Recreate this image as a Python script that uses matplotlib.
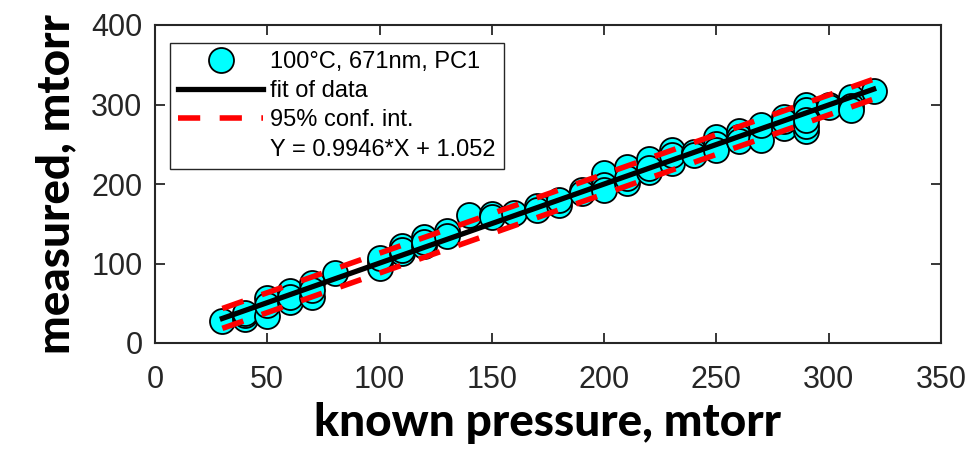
import matplotlib
matplotlib.use("Agg")
import matplotlib.pyplot as plt
import numpy as np
from matplotlib.lines import Line2D

# known pressure setpoints (mtorr) and the measured readings at each
known = [30, 40, 40, 40, 50, 50, 50, 60, 60, 60, 70, 70, 70, 80,
         100, 100, 100, 110, 110, 110, 120, 120, 120, 130, 130,
         140, 150, 150, 160, 170, 170, 180, 180, 190, 190,
         200, 200, 200, 210, 210, 210, 220, 220, 220, 230, 230, 230,
         240, 240, 250, 250, 250, 260, 260, 260, 270, 270, 270,
         280, 280, 280, 290, 290, 290, 290, 290, 300, 300,
         310, 310, 310, 320]
measured = [28, 30, 35, 38, 57, 34, 48, 65, 52, 58, 75, 58, 67, 88,
            102, 94, 107, 122, 113, 117, 133, 122, 127, 141, 135,
            161, 162, 158, 164, 172, 167, 173, 180, 193, 189,
            214, 199, 192, 222, 201, 208, 231, 215, 220, 243, 226, 236,
            240, 236, 259, 250, 243, 267, 259, 254, 264, 255, 274,
            284, 270, 279, 300, 267, 273, 293, 281, 300, 297,
            309, 298, 293, 317]

slope = 0.9946
intercept = 1.052
conf_half = 12.5
fit_range = [30, 320]

x_ticks = [0, 50, 100, 150, 200, 250, 300, 350]
y_ticks = [0, 100, 200, 300, 400]

plt.rcParams["font.family"] = ["Liberation Sans", "DejaVu Sans"]

fig = plt.figure(figsize=(9.73, 4.55), dpi=100)
ax = fig.add_axes([155 / 973, 1 - 343 / 455, 786 / 973, 318 / 455])

ax.plot(known, measured, linestyle="none", marker="o", markersize=18,
        markerfacecolor="#00FFFF", markeredgecolor="black", markeredgewidth=1.3,
        zorder=2)

xf = np.array(fit_range, dtype=float)
yf = slope * xf + intercept
ax.plot(xf, yf, color="black", linewidth=3.8, zorder=3)
dash = (0, (4, 3.5))
ax.plot(xf, yf + conf_half, color="red", linewidth=4, linestyle=dash, zorder=4)
ax.plot(xf, yf - conf_half, color="red", linewidth=4, linestyle=dash, zorder=4)

ax.set_xlim(0, 350)
ax.set_ylim(0, 400)
ax.set_xticks(x_ticks)
ax.set_yticks(y_ticks)
ax.tick_params(direction="in", length=7, width=1.3, colors="#262626",
               labelsize=22, top=True, right=True)
ax.tick_params(axis="x", pad=16)
ax.tick_params(axis="y", pad=9)
for sp in ax.spines.values():
    sp.set_linewidth(1.5)
    sp.set_color("#262626")

label_font = dict(family=["Lato", "DejaVu Sans"], fontweight="black", fontsize=33,
                  color="black")
ax.set_xlabel("known pressure, mtorr", labelpad=5, **label_font)
ax.set_ylabel("measured, mtorr", labelpad=10, **label_font)

handles = [
    Line2D([], [], linestyle="none", marker="o", markersize=18,
           markerfacecolor="#00FFFF", markeredgecolor="black", markeredgewidth=1.3),
    Line2D([], [], color="black", linewidth=3.8),
    Line2D([], [], color="red", linewidth=4, linestyle=dash),
    Line2D([], [], linestyle="none"),
]
labels = ["100°C, 671nm, PC1", "fit of data", "95% conf. int.",
          "Y = 0.9946*X + 1.052"]
leg = ax.legend(handles, labels, loc="upper left",
                bbox_to_anchor=(170 / 973, 1 - 43 / 455),
                bbox_transform=fig.transFigure, fontsize=17, frameon=True,
                fancybox=False, edgecolor="#262626", framealpha=1,
                handlelength=3.6, handletextpad=0.3, labelspacing=0.3,
                borderpad=0.35, borderaxespad=0)
leg.get_frame().set_linewidth(1.0)

fig.savefig("out.png", dpi=100)
